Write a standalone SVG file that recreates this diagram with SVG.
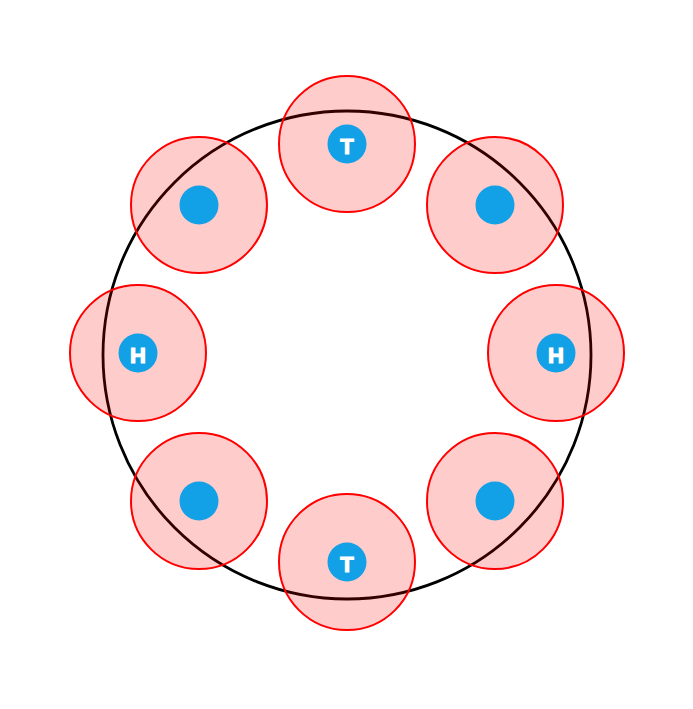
<svg xmlns="http://www.w3.org/2000/svg" width="693" height="709" viewBox="0 0 693 709">
<style>
.ring{fill:none;stroke:#000;stroke-width:2.8}
.halo{fill:#ff0000;fill-opacity:0.2;stroke:#ff0000;stroke-width:2}
.dot{fill:#12a0e6}
.lbl{fill:#fff;stroke:#fff;stroke-width:1.2;font-family:"Liberation Sans",Arial,sans-serif;font-weight:bold;font-size:22px;text-anchor:middle;dominant-baseline:central}
</style>
<rect width="693" height="709" fill="#fff"/>
<g id="connectors">
<circle class="ring" cx="347" cy="355" r="244"/>
</g>
<g id="n-top"><circle class="halo" cx="347" cy="144" r="68"/><circle class="dot" cx="347" cy="144" r="19.5"/><text class="lbl" x="347" y="146">T</text></g>
<g id="n-topright"><circle class="halo" cx="495" cy="205" r="68"/><circle class="dot" cx="495" cy="205" r="19.5"/></g>
<g id="n-right"><circle class="halo" cx="556" cy="353" r="68"/><circle class="dot" cx="556" cy="353" r="19.5"/><text class="lbl" x="556" y="355">H</text></g>
<g id="n-bottomright"><circle class="halo" cx="495" cy="501" r="68"/><circle class="dot" cx="495" cy="501" r="19.5"/></g>
<g id="n-bottom"><circle class="halo" cx="347" cy="562" r="68"/><circle class="dot" cx="347" cy="562" r="19.5"/><text class="lbl" x="347" y="564">T</text></g>
<g id="n-bottomleft"><circle class="halo" cx="199" cy="501" r="68"/><circle class="dot" cx="199" cy="501" r="19.5"/></g>
<g id="n-left"><circle class="halo" cx="138" cy="353" r="68"/><circle class="dot" cx="138" cy="353" r="19.5"/><text class="lbl" x="138" y="355">H</text></g>
<g id="n-topleft"><circle class="halo" cx="199" cy="205" r="68"/><circle class="dot" cx="199" cy="205" r="19.5"/></g>
</svg>
